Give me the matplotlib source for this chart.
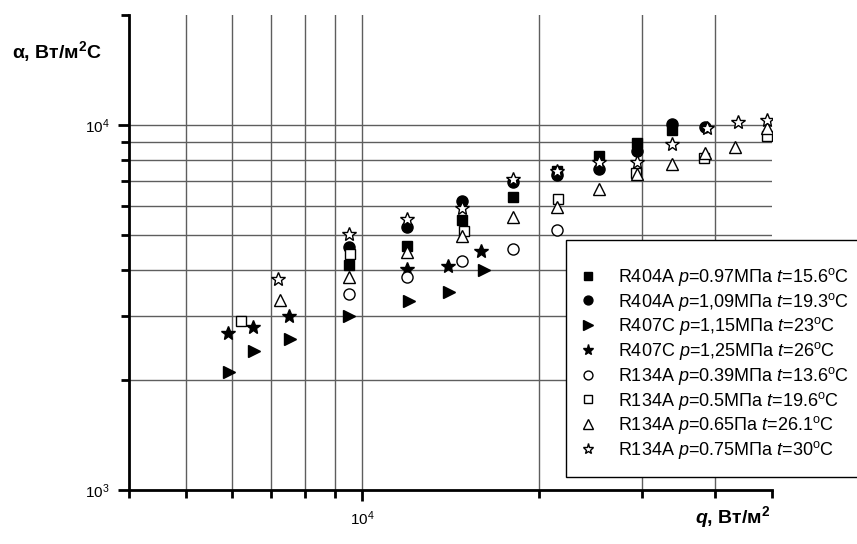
import matplotlib
matplotlib.use('Agg')
import matplotlib.pyplot as plt
from matplotlib.patches import Rectangle
from matplotlib.ticker import FixedLocator, NullFormatter, FixedFormatter

plt.rcParams['font.family'] = ['Liberation Sans', 'DejaVu Sans']
plt.rcParams['mathtext.fontset'] = 'custom'
plt.rcParams['mathtext.rm'] = 'Liberation Sans'
plt.rcParams['mathtext.it'] = 'Liberation Sans:italic'
plt.rcParams['mathtext.bf'] = 'Liberation Sans:bold'
plt.rcParams['mathtext.bfit'] = 'Liberation Sans:italic:bold'

#values (q in W/m2, alpha in W/m2C)
q_r404a_097 = [9500, 11900, 14800, 18100, 21500, 25350, 29400, 33750]
a_r404a_097 = [4130, 4650, 5500, 6340, 7480, 8220, 8910, 9690]
q_r404a_109 = [9500, 11900, 14800, 18100, 21500, 25350, 29400, 33750, 38500]
a_r404a_109 = [4620, 5250, 6200, 6970, 7300, 7560, 8500, 10060, 9860]
q_r407c_115 = [5920, 6540, 7540, 9500, 12000, 14080, 16120]
a_r407c_115 = [2100, 2400, 2590, 3000, 3300, 3490, 4010]
q_r407c_125 = [5890, 6500, 7490, 11900, 14010, 15970]
a_r407c_125 = [2700, 2800, 3000, 4020, 4110, 4520]
q_r134a_039 = [9500, 11900, 14800, 18100, 21500]
a_r134a_039 = [3440, 3840, 4250, 4570, 5160]
q_r134a_05 = [6200, 9540, 14900, 21600, 29300, 38300, 49000]
a_r134a_05 = [2900, 4430, 5130, 6260, 7400, 8100, 9330]
q_r134a_065 = [7250, 9500, 11900, 14800, 18100, 21500, 25350, 29400, 33750, 38500, 43200, 49000]
a_r134a_065 = [3320, 3820, 4500, 4970, 5610, 5950, 6660, 7340, 7800, 8400, 8720, 9790]
q_r134a_075 = [7180, 9480, 11900, 14800, 18100, 21500, 25350, 29400, 33750, 38800, 43800, 49000]
a_r134a_075 = [3780, 5010, 5520, 5910, 7100, 7480, 7930, 7930, 8850, 9790, 10210, 10320]

labels = [
    r'R404A $\it{p}$=0.97МПа $\it{t}$=15.6$^{\rm o}$C',
    r'R404A $\it{p}$=1,09МПа $\it{t}$=19.3$^{\rm o}$C',
    r'R407C $\it{p}$=1,15МПа $\it{t}$=23$^{\rm o}$C',
    r'R407C $\it{p}$=1,25МПа $\it{t}$=26$^{\rm o}$C',
    r'R134A $\it{p}$=0.39МПа $\it{t}$=13.6$^{\rm o}$C',
    r'R134A $\it{p}$=0.5МПа $\it{t}$=19.6$^{\rm o}$C',
    r'R134A $\it{p}$=0.65Па $\it{t}$=26.1$^{\rm o}$C',
    r'R134A $\it{p}$=0.75МПа $\it{t}$=30$^{\rm o}$C',
]

x_grid = [5000, 6000, 7000, 8000, 9000, 10000, 20000, 30000, 40000]
y_grid = [2000, 3000, 4000, 5000, 6000, 7000, 8000, 9000, 10000]

fig = plt.figure(figsize=(8.57, 5.44), dpi=100)
ax = fig.add_axes([129/857, 54/544, 643/857, 475/544])
ax.set_xscale('log')
ax.set_yscale('log')
ax.set_xlim(4000, 50000)
ax.set_ylim(1000, 20000)

#grid lines (not on the axis ends)
for v in x_grid:
    ax.axvline(v, color='#5e5e5e', lw=1, zorder=0)
for v in y_grid:
    ax.axhline(v, color='#5e5e5e', lw=1, zorder=0)

series = [
    (q_r404a_097, a_r404a_097, 's', 'k', 7),
    (q_r404a_109, a_r404a_109, 'o', 'k', 8),
    (q_r407c_115, a_r407c_115, '>', 'k', 9),
    (q_r407c_125, a_r407c_125, '*', 'k', 10),
    (q_r134a_039, a_r134a_039, 'o', 'w', 8),
    (q_r134a_05, a_r134a_05, 's', 'w', 7),
    (q_r134a_065, a_r134a_065, '^', 'w', 8.5),
    (q_r134a_075, a_r134a_075, '*', 'w', 10),
]
for (x, y, m, fc, ms), lab in zip(series, labels):
    ax.plot(x, y, linestyle='none', marker=m, markersize=ms, markerfacecolor=fc,
            markeredgecolor='k', markeredgewidth=1, label=lab, zorder=3)

for s in ['top', 'right']:
    ax.spines[s].set_visible(False)
for s in ['left', 'bottom']:
    ax.spines[s].set_linewidth(2)

ax.xaxis.set_major_locator(FixedLocator([10000]))
ax.xaxis.set_major_formatter(FixedFormatter([r'$10^4$']))
ax.xaxis.set_minor_locator(FixedLocator([4000] + x_grid[:5] + [20000, 30000, 40000, 50000]))
ax.xaxis.set_minor_formatter(NullFormatter())
ax.yaxis.set_major_locator(FixedLocator([1000, 10000]))
ax.yaxis.set_major_formatter(FixedFormatter([r'$10^3$', r'$10^4$']))
ax.yaxis.set_minor_locator(FixedLocator(y_grid[:8] + [20000]))
ax.yaxis.set_minor_formatter(NullFormatter())
ax.tick_params(which='major', direction='out', length=8, width=2, labelsize=11, pad=6)
ax.tick_params(which='minor', direction='out', length=6, width=2)

#legend box drawn separately, legend itself without frame
box = Rectangle((566/857, 1 - 477/544), 0.5, 237/544, transform=fig.transFigure,
                facecolor='white', edgecolor='k', lw=1, zorder=5)
fig.patches.append(box)
leg = fig.legend(loc='upper left', bbox_to_anchor=(579/857, 1 - 266/544), fontsize=13,
                 frameon=False, markerscale=0.8, handlelength=1.0, handletextpad=1.17,
                 labelspacing=0.15, borderpad=0, borderaxespad=0)
leg.set_zorder(6)

fig.text(12/857, 1 - 52/544, 'α, Вт/м$^\\mathbf{2}$C', fontsize=14, fontweight='bold', va='center')
fig.text(695/857, 1 - 517/544, '$\\mathbfit{q}$, Вт/м$^\\mathbf{2}$', fontsize=14,
         fontweight='bold', va='center')

fig.savefig('out.png', dpi=100)
